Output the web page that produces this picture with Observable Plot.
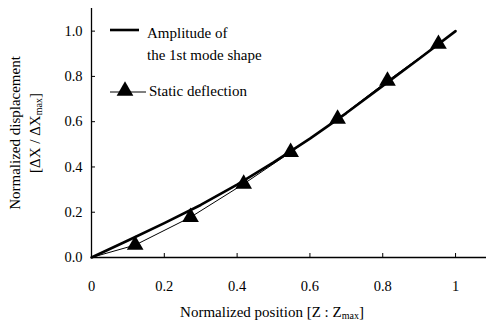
<!DOCTYPE html>
<html><head><meta charset="utf-8">
<script src="https://cdn.jsdelivr.net/npm/d3@7"></script>
<script src="https://cdn.jsdelivr.net/npm/@observablehq/plot@0.6"></script>
<style>body{margin:0;background:#fff}svg, svg text{font-family:"Liberation Serif","Times New Roman",serif !important}</style>
</head><body><div id="chart"></div>
<script>
const modeX = [0, 0.1, 0.2, 0.3, 0.4, 0.5, 0.6, 0.7, 0.8, 0.9, 1.0];
const modeY = [0, 0.075, 0.152, 0.232, 0.322, 0.42, 0.525, 0.638, 0.758, 0.878, 1.0];
const staticX = [0.12, 0.272, 0.418, 0.547, 0.676, 0.813, 0.953];
const staticY = [0.055, 0.178, 0.325, 0.465, 0.612, 0.78, 0.943];
const lineX = [0, ...staticX, 1.0];
const lineY = [0, ...staticY, 1.0];
const xTicks = [0, 0.2, 0.4, 0.6, 0.8, 1];
const xTickLabels = ["0", "0.2", "0.4", "0.6", "0.8", "1"];
const yTicks = [0, 0.2, 0.4, 0.6, 0.8, 1.0];

const mode = modeX.map((x, i) => ({x, y: modeY[i]}));
const stat = staticX.map((x, i) => ({x, y: staticY[i]}));
const statLine = lineX.map((x, i) => ({x, y: lineY[i]}));

const serif = '"Liberation Serif", "Times New Roman", serif';
const chart = Plot.plot({
  width: 486, height: 322,
  marginLeft: 91, marginRight: 0, marginTop: 8, marginBottom: 65,
  style: {fontFamily: serif, fontSize: "14px", background: "#fff"},
  x: {domain: [0, 1.085]},
  y: {domain: [0, 1.1]},
  marks: [
    Plot.axisX({ticks: xTicks, tickFormat: d => xTickLabels[xTicks.indexOf(d)], tickSize: -4, tickPadding: 27, label: null, fontSize: 14.5}),
    Plot.axisY({ticks: yTicks, tickFormat: d3.format(".1f"), tickSize: -4, tickPadding: 13, label: null, fontSize: 14.5}),
    Plot.ruleY([0], {stroke: "#000", strokeWidth: 1.3}),
    Plot.ruleX([0], {stroke: "#000", strokeWidth: 1.3}),
    Plot.line(statLine, {x: "x", y: "y", stroke: "#000", strokeWidth: 1}),
    Plot.line(mode, {x: "x", y: "y", stroke: "#000", strokeWidth: 2.6}),
    Plot.dot(stat, {x: "x", y: "y", symbol: "triangle", r: 6.2, fill: "#000", stroke: "none"})
  ]
});
document.getElementById("chart").appendChild(chart);

const svg = d3.select(chart);
const g = svg.append("g").attr("fill", "#000")
  .style("font-family", serif).style("text-anchor", "start");
function txt(sel, x, y, size) {
  return sel.append("text").attr("x", x).attr("y", y).style("font-size", size + "px").style("text-anchor", "start");
}
// legend
g.append("line").attr("x1", 110).attr("x2", 139).attr("y1", 30).attr("y2", 30).attr("stroke", "#000").attr("stroke-width", 2.6);
txt(g, 147, 38, 15).text("Amplitude of");
txt(g, 147, 60, 15).text("the 1st mode shape");
g.append("line").attr("x1", 110).attr("x2", 146).attr("y1", 92).attr("y2", 92).attr("stroke", "#000").attr("stroke-width", 1);
g.append("path").attr("d", d3.symbol(d3.symbolTriangle, Math.PI * 6.2 * 6.2)()).attr("transform", "translate(125,91)");
txt(g, 149, 96, 15).text("Static deflection");
// x label
const xl = g.append("text").attr("x", 272).attr("y", 317).style("text-anchor", "middle").style("font-size", "15px");
xl.append("tspan").text("Normalized position [Z : Z");
xl.append("tspan").style("font-size", "10px").attr("dy", 2).text("max");
xl.append("tspan").attr("dy", -2).text("]");
// y label
const yl = g.append("g").attr("transform", "translate(20,133) rotate(-90)");
yl.append("text").style("text-anchor", "middle").style("font-size", "15px").text("Normalized displacement");
const yl2 = yl.append("text").attr("y", 20).style("text-anchor", "middle").style("font-size", "15px");
yl2.append("tspan").text("[\u0394X / \u0394X");
yl2.append("tspan").style("font-size", "10px").attr("dy", 2).text("max");
yl2.append("tspan").attr("dy", -2).text("]");
</script></body></html>
